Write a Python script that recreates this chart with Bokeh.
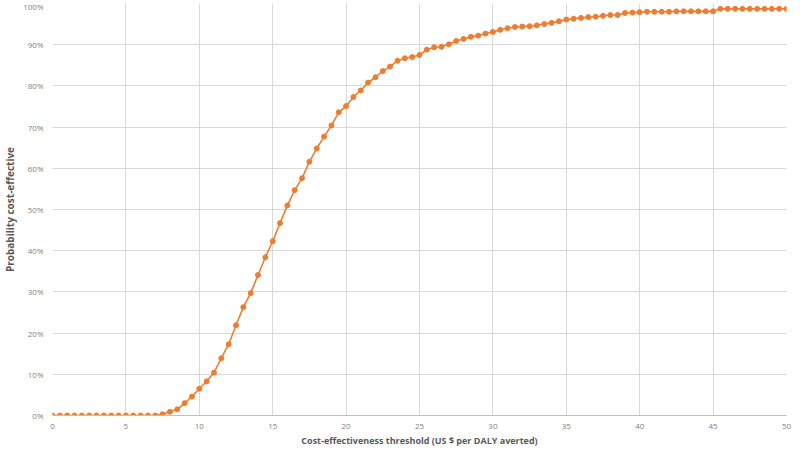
from bokeh.plotting import figure
from bokeh.models import Range1d, NumeralTickFormatter, FixedTicker, ColumnDataSource
from bokeh.embed import file_html
from bokeh.resources import INLINE

thresholds = [i * 0.5 for i in range(101)]
probability = [
    0.0, 0.0, 0.0, 0.0, 0.0, 0.0, 0.0, 0.0, 0.0, 0.0,      # 0 - 4.5
    0.0, 0.0, 0.0, 0.0, 0.0, 0.3, 0.9, 1.5, 3.0, 4.6,      # 5 - 9.5
    6.5, 8.3, 10.4, 13.9, 17.3, 21.9, 26.3, 29.7, 34.1, 38.4,  # 10 - 14.5
    42.3, 46.7, 51.0, 54.7, 57.6, 61.6, 64.8, 67.7, 70.4, 73.6,  # 15 - 19.5
    75.1, 77.3, 78.9, 80.8, 82.1, 83.6, 84.7, 86.1, 86.7, 87.0,  # 20 - 24.5
    87.5, 88.8, 89.4, 89.5, 90.1, 90.9, 91.4, 91.9, 92.2, 92.7,  # 25 - 29.5
    93.1, 93.6, 94.0, 94.3, 94.4, 94.5, 94.7, 95.0, 95.3, 95.7,  # 30 - 34.5
    96.1, 96.3, 96.5, 96.7, 96.8, 97.0, 97.2, 97.2, 97.7, 97.8,  # 35 - 39.5
    97.9, 98.0, 98.0, 98.0, 98.0, 98.1, 98.1, 98.1, 98.1, 98.1,  # 40 - 44.5
    98.1, 98.7, 98.7, 98.7, 98.7, 98.7, 98.7, 98.7, 98.7, 98.7,  # 45 - 49.5
    98.7,                                                      # 50
]
x_ticks = [0, 5, 10, 15, 20, 25, 30, 35, 40, 45, 50]
y_ticks = [0, 0.1, 0.2, 0.3, 0.4, 0.5, 0.6, 0.7, 0.8, 0.9, 1.0]

source = ColumnDataSource(dict(x=thresholds, y=[v / 100 for v in probability]))

p = figure(frame_width=734, frame_height=412, output_backend="svg", toolbar_location=None,
           x_range=Range1d(0, 50), y_range=Range1d(0, 1),
           min_border_left=0, min_border_right=6, min_border_top=3, min_border_bottom=0)

p.outline_line_color = None
p.background_fill_color = "white"
p.border_fill_color = "white"

orange = "#ED7D31"
p.line("x", "y", source=source, line_color=orange, line_width=1.6)
p.scatter("x", "y", source=source, size=5, fill_color=orange, line_color=orange)

grid_color = "#d9d9d9"
p.xgrid.grid_line_color = grid_color
p.ygrid.grid_line_color = grid_color
p.xgrid.ticker = FixedTicker(ticks=x_ticks)
p.ygrid.ticker = FixedTicker(ticks=y_ticks)

p.xaxis.ticker = FixedTicker(ticks=x_ticks)
p.yaxis.ticker = FixedTicker(ticks=y_ticks)
p.yaxis.formatter = NumeralTickFormatter(format="0%")

for ax in (p.xaxis[0], p.yaxis[0]):
    ax.major_tick_line_color = None
    ax.minor_tick_line_color = None
    ax.major_label_text_font = "Open Sans"
    ax.major_label_text_font_size = "8px"
    ax.major_label_text_color = "#7f7f7f"
    ax.axis_label_text_font = "Open Sans"
    ax.axis_label_text_font_style = "bold"
    ax.axis_label_text_color = "#595959"

p.xaxis.axis_label_text_font_size = "9px"
p.yaxis.axis_label_text_font_size = "10px"
p.xaxis.axis_line_color = "#bfbfbf"
p.yaxis.axis_line_color = None
p.xaxis.axis_label = "Cost-effectiveness threshold (US $ per DALY averted)"
p.yaxis.axis_label = "Probability cost-effective"
p.xaxis.major_label_standoff = 2
p.yaxis.major_label_standoff = 3
p.xaxis.axis_label_standoff = 2
p.yaxis.axis_label_standoff = 3

open("out.html", "w").write(file_html(p, INLINE))
